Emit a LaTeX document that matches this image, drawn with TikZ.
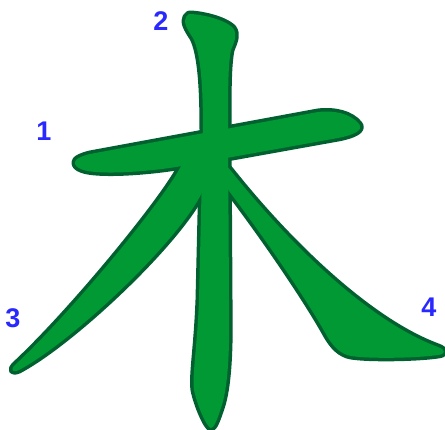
\documentclass[tikz,border=0pt]{standalone}
\usepackage{fontspec}
\setmainfont{Liberation Sans}
\definecolor{kgreen}{RGB}{0,153,51}
\definecolor{kdark}{RGB}{0,96,48}
\definecolor{kblue}{RGB}{40,40,255}
\begin{document}
\begin{tikzpicture}[x=1pt,y=-1pt,
  outl/.style={draw=kdark,line width=7pt,line join=round},
  fil/.style={fill=kgreen},
  numlbl/.style={text=kblue,font=\fontsize{27}{27}\selectfont\bfseries,inner sep=0pt}]
\useasboundingbox (0,0) rectangle (445,430);
% stroke paths
\def\skOne{(76,160) .. controls (72,166) and (80,171) .. (96,172) .. controls (120,174) and (160,170) .. (182,166) -- (338,138) .. controls (354,135) and (364,130) .. (359,124) .. controls (351,114) and (335,110) .. (318,112) -- (90,154) .. controls (82,156) and (78,158) .. (76,160) -- cycle}
\def\skTwo{(189,14) .. controls (200,14) and (224,19) .. (233,28) .. controls (238,35) and (234,42) .. (231,50) .. controls (228,65) and (228,90) .. (228,130) -- (229,300) .. controls (230,350) and (228,388) .. (221,408) .. controls (217,420) and (214,428) .. (211,428) .. controls (207,428) and (197,405) .. (194,390) .. controls (192,375) and (197,350) .. (199,300) -- (203,130) .. controls (203,80) and (200,52) .. (193,38) .. controls (187,29) and (183,22) .. (186,17) .. controls (187,15) .. (189,14) -- cycle}
\def\skThree{(186,158) -- (180,168) .. controls (162,202) and (72,312) .. (15,365) .. controls (10,370) and (12,373) .. (19,370) .. controls (75,340) and (185,235) .. (204,188) -- (208,160) -- cycle}
\def\skFour{(220,158) -- (231,171) .. controls (290,245) and (370,322) .. (438,347) .. controls (446,350) and (446,354) .. (438,355) .. controls (418,358) and (370,359) .. (351,356) .. controls (340,354) and (333,346) .. (327,336) .. controls (310,305) and (270,245) .. (229,191) -- (220,175) -- cycle}
% outlines first, fills on top (union outline)
\draw[outl] \skOne;
\draw[outl] \skTwo;
\draw[outl] \skThree;
\draw[outl] \skFour;
\fill[fil] \skTwo;
\fill[fil] \skThree;
\fill[fil] \skFour;
\fill[fil] \skOne;
% stroke numbers
\node[numlbl] (n1) at (44,131) {1};
\node[numlbl] (n2) at (161,21) {2};
\node[numlbl] (n3) at (13,318) {3};
\node[numlbl] (n4) at (429,307) {4};
\end{tikzpicture}
\end{document}
